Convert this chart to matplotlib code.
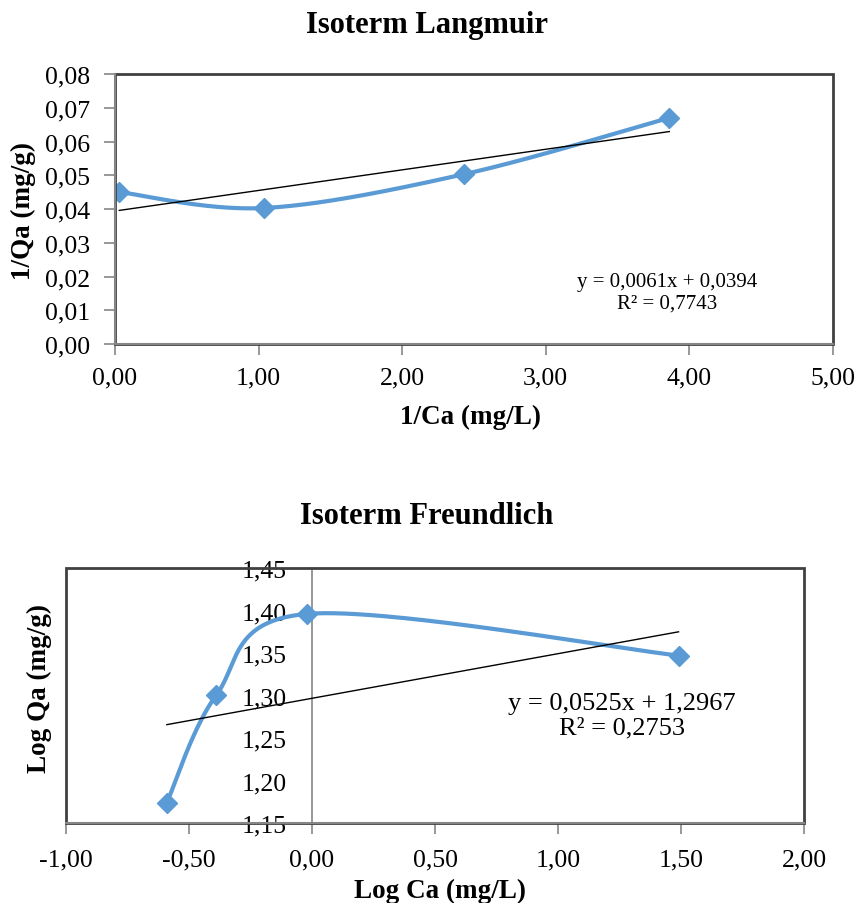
import numpy as np
import matplotlib
matplotlib.use("Agg")
import matplotlib.pyplot as plt
from matplotlib.patches import Rectangle

plt.rcParams['font.family'] = ['Liberation Serif', 'DejaVu Serif']

# ---- data: Langmuir ----
lang_x = [0.03, 1.04, 2.43, 3.86]
lang_y = [0.0450, 0.0403, 0.0503, 0.0670]
lang_fit = [0.0061, 0.0394]          # slope, intercept
lang_eq = "y = 0,0061x + 0,0394\nR² = 0,7743"
lang_xticks = [0, 1, 2, 3, 4, 5]
lang_xticklabels = ["0,00", "1,00", "2,00", "3,00", "4,00", "5,00"]
lang_yticks = [0, 0.01, 0.02, 0.03, 0.04, 0.05, 0.06, 0.07, 0.08]
lang_yticklabels = ["0,00", "0,01", "0,02", "0,03", "0,04", "0,05", "0,06", "0,07", "0,08"]

# ---- data: Freundlich ----
fr_x = [-0.59, -0.39, -0.02, 1.49]
fr_y = [1.174, 1.300, 1.396, 1.347]
fr_fit = [0.0525, 1.2967]
fr_eq = "y = 0,0525x + 1,2967\nR² = 0,2753"
fr_xticks = [-1.0, -0.5, 0.0, 0.5, 1.0, 1.5, 2.0]
fr_xticklabels = ["-1,00", "-0,50", "0,00", "0,50", "1,00", "1,50", "2,00"]
fr_yticks = [1.15, 1.20, 1.25, 1.30, 1.35, 1.40, 1.45]
fr_yticklabels = ["1,15", "1,20", "1,25", "1,30", "1,35", "1,40", "1,45"]

BLUE = "#5B9BD5"
DARK = "#404040"
GRAY = "#868686"


def smooth(xs, ys, n=60):
    """Excel-like smoothed line (Catmull-Rom via cubic Bezier)."""
    P = np.column_stack([xs, ys]).astype(float)
    m = len(P)
    out = []
    t = np.linspace(0, 1, n)[:, None]
    for i in range(m - 1):
        p0 = P[i - 1] if i > 0 else P[i]
        p1 = P[i]
        p2 = P[i + 1]
        p3 = P[i + 2] if i + 2 < m else P[i + 1]
        c1 = p1 + (p2 - p0) / 6.0
        c2 = p2 - (p3 - p1) / 6.0
        seg = ((1 - t) ** 3) * p1 + 3 * ((1 - t) ** 2) * t * c1 + 3 * (1 - t) * t ** 2 * c2 + t ** 3 * p2
        out.append(seg if i == 0 else seg[1:])
    out = np.vstack(out)
    return out[:, 0], out[:, 1]


W, H = 856, 904
fig = plt.figure(figsize=(W / 100, H / 100), dpi=100)
fig.patch.set_facecolor("white")


def frac(px, py):
    return px / W, 1 - py / H


# ================= Langmuir =================
ax1 = fig.add_axes([115 / W, 1 - 345 / H, 718 / W, 270 / H])
sx, sy = smooth(lang_x, lang_y)
ax1.plot(sx, sy, color=BLUE, lw=3, zorder=3, solid_capstyle='round')
ax1.plot(lang_x, lang_y, linestyle='none', marker='D', ms=10, color=BLUE, zorder=4)
tx = np.array([min(lang_x), max(lang_x)])
ax1.plot(tx, lang_fit[0] * tx + lang_fit[1], color='black', lw=1, zorder=5)
ax1.set_xlim(0, 5)
ax1.set_ylim(0, 0.08)
ax1.set_xticks(lang_xticks)
ax1.set_xticklabels(lang_xticklabels)
ax1.set_yticks(lang_yticks)
ax1.set_yticklabels(lang_yticklabels)
ax1.tick_params(axis='both', labelsize=18.5, color=GRAY, length=8, width=1.2)
ax1.tick_params(axis='x', pad=8.5)
ax1.tick_params(axis='y', pad=10)
for s in ['top', 'right']:
    ax1.spines[s].set_visible(False)
for s in ['left', 'bottom']:
    ax1.spines[s].set_color(GRAY)
    ax1.spines[s].set_linewidth(1.5)
    ax1.spines[s].set_zorder(7)
ax1.add_patch(Rectangle((0, 0), 1, 1, transform=ax1.transAxes, fill=False,
                        edgecolor=DARK, lw=2, clip_on=False, zorder=6))

fig.text(*frac(427, 25), "Isoterm Langmuir", ha='center', va='center',
         fontsize=22, fontweight='bold')
fig.text(*frac(470, 417), "1/Ca (mg/L)", ha='center', va='center',
         fontsize=19.5, fontweight='bold')
fig.text(*frac(23, 211), "1/Qa (mg/g)", ha='center', va='center',
         fontsize=19.5, fontweight='bold', rotation=90)
fig.text(*frac(667, 293), lang_eq, ha='center', va='center',
         fontsize=15, multialignment='center', linespacing=1.15)

# ================= Freundlich =================
ax2 = fig.add_axes([66 / W, 1 - 824 / H, 738 / W, 255 / H])
sx, sy = smooth(fr_x, fr_y)
ax2.plot(sx, sy, color=BLUE, lw=3, zorder=3, solid_capstyle='round')
ax2.plot(fr_x, fr_y, linestyle='none', marker='D', ms=10, color=BLUE, zorder=4)
tx = np.array([min(fr_x), max(fr_x)])
ax2.plot(tx, fr_fit[0] * tx + fr_fit[1], color='black', lw=1, zorder=5)
ax2.set_xlim(-1, 2)
ax2.set_ylim(1.15, 1.45)
ax2.set_xticks(fr_xticks)
ax2.set_xticklabels(fr_xticklabels)
ax2.set_yticks(fr_yticks)
ax2.set_yticklabels(fr_yticklabels)
ax2.spines['left'].set_position(('data', 0))
ax2.spines['left'].set_color(GRAY)
ax2.spines['left'].set_linewidth(1.2)
ax2.spines['bottom'].set_color(GRAY)
ax2.spines['bottom'].set_linewidth(1.5)
ax2.spines['bottom'].set_zorder(7)
for s in ['top', 'right']:
    ax2.spines[s].set_visible(False)
ax2.tick_params(axis='both', labelsize=18.5, color=GRAY, width=1.2)
ax2.tick_params(axis='x', length=8, pad=10)
ax2.tick_params(axis='y', length=0, pad=18)
ax2.add_patch(Rectangle((0, 0), 1, 1, transform=ax2.transAxes, fill=False,
                        edgecolor=DARK, lw=2, clip_on=False, zorder=6))

fig.text(*frac(427, 517), "Isoterm Freundlich", ha='center', va='center',
         fontsize=22, fontweight='bold')
fig.text(*frac(440, 891), "Log Ca (mg/L)", ha='center', va='center',
         fontsize=19.5, fontweight='bold')
fig.text(*frac(39, 689), "Log Qa (mg/g)", ha='center', va='center',
         fontsize=19.5, fontweight='bold', rotation=90)
fig.text(*frac(622, 716), fr_eq, ha='center', va='center',
         fontsize=19, multialignment='center', linespacing=1.15)

fig.savefig("out.png", dpi=100, facecolor='white')
